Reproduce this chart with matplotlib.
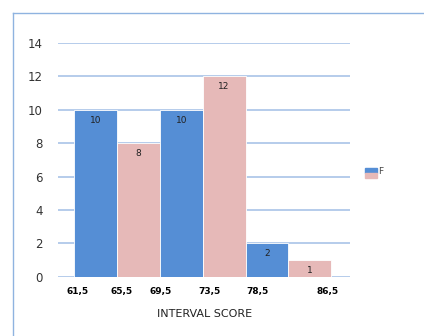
import matplotlib.pyplot as plt
from matplotlib.patches import Rectangle
from matplotlib.lines import Line2D

# data
freq = [10, 8, 10, 12, 2, 1]
tick_labels = ["61,5", "65,5", "69,5", "73,5", "78,5", "86,5"]
bar_colors = ["#558ed5", "#e6b9b8", "#558ed5", "#e6b9b8", "#558ed5", "#e6b9b8"]

fig = plt.figure(figsize=(4.24, 3.36), dpi=100)
ax = fig.add_axes([0.137, 0.176, 0.689, 0.696])

x = list(range(len(freq)))
bars = ax.bar(x, freq, width=1.0, color=bar_colors, edgecolor="white", linewidth=0.6, zorder=3)
for b, v in zip(bars, freq):
    ax.text(b.get_x() + b.get_width() / 2, v - 0.35, str(v), ha="center", va="top",
            fontsize=6.5, color="#222222", zorder=4)

ax.set_xlim(-0.87, 5.94)
ax.set_ylim(0, 14)
ax.set_yticks(range(0, 15, 2))
ax.yaxis.grid(True, color="#a9c4e8", linewidth=1.2, zorder=0)
ax.set_axisbelow(True)
for s in ax.spines.values():
    s.set_visible(False)
ax.tick_params(axis="both", length=0)
ax.tick_params(axis="y", labelsize=8.5, labelcolor="#333333", pad=11)

# tick positions as they sit under the bars in the original
ax.set_xticks([-0.41, 0.60, 1.51, 2.65, 3.78, 5.41])
ax.set_xticklabels(tick_labels, fontsize=6.5, fontweight="bold")
ax.tick_params(axis="x", pad=7)
ax.set_xlabel("INTERVAL SCORE", fontsize=8, color="#222222", labelpad=10)

# light blue frame around the chart
fig.add_artist(Line2D([13 / 424, 13 / 424], [0, 1 - 12.5 / 336], color="#8fb3e0", lw=1.0))
fig.add_artist(Line2D([13 / 424, 1], [1 - 12.5 / 336, 1 - 12.5 / 336], color="#8fb3e0", lw=1.0))

# legend marker: blue over pink, label F
fig.add_artist(Rectangle((365 / 424, 1 - 173 / 336), 12 / 424, 5 / 336, color="#558ed5"))
fig.add_artist(Rectangle((365 / 424, 1 - 178 / 336), 12 / 424, 5 / 336, color="#e6b9b8"))
fig.text(378 / 424, 1 - 172 / 336, "F", fontsize=6.5, color="#444444", va="center")

plt.savefig("out.png", dpi=100)
